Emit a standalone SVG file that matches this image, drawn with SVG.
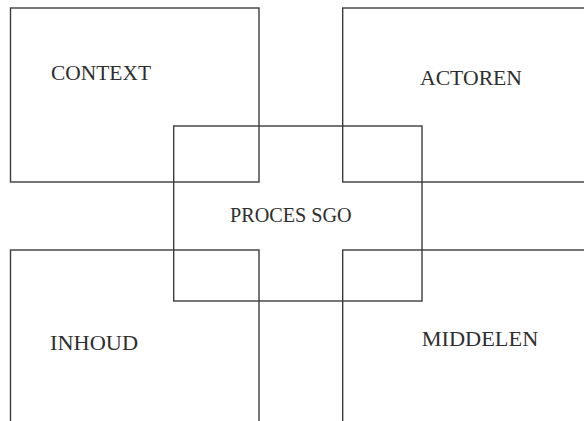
<svg xmlns="http://www.w3.org/2000/svg" width="584" height="421" viewBox="0 0 584 421">
<style>
.box{fill:none;stroke:#3c3c3c;stroke-width:1.4}
.lbl{font-family:"Liberation Serif","Times New Roman",serif;font-size:20.5px;fill:#2e2e2e}
</style>
<rect width="584" height="421" fill="#fff"/>
<g id="context"><rect class="box" x="10.5" y="8" width="248.5" height="174"/><text class="lbl" x="51" y="79.5" textLength="100" lengthAdjust="spacingAndGlyphs">CONTEXT</text></g>
<g id="actoren"><rect class="box" x="342.7" y="8" width="260" height="174"/><text class="lbl" x="420" y="85" textLength="102" lengthAdjust="spacingAndGlyphs">ACTOREN</text></g>
<g id="inhoud"><rect class="box" x="10.5" y="250" width="248.5" height="200"/><text class="lbl" x="50" y="350" textLength="88" lengthAdjust="spacingAndGlyphs">INHOUD</text></g>
<g id="middelen"><rect class="box" x="342.7" y="250" width="260" height="200"/><text class="lbl" x="421.7" y="346" textLength="116.6" lengthAdjust="spacingAndGlyphs">MIDDELEN</text></g>
<g id="proces"><rect class="box" x="173.7" y="126" width="248.3" height="175"/><text class="lbl" x="230" y="221.7" textLength="121.7" lengthAdjust="spacingAndGlyphs">PROCES SGO</text></g>
<g id="connectors"></g>
</svg>
